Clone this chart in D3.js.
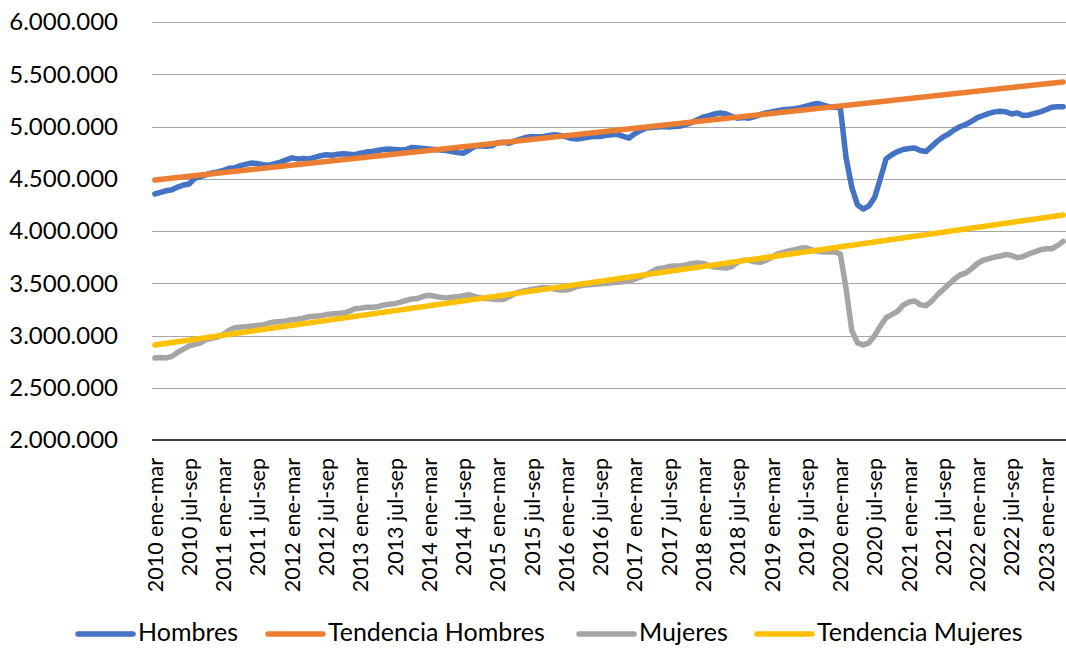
<!DOCTYPE html>
<html>
<head>
<meta charset="utf-8">
<script src="https://cdn.jsdelivr.net/npm/d3@7"></script>
<style>
  body { margin: 0; background: #fff; }
  svg { display: block; font-family: Lato, "Noto Sans", sans-serif; }
</style>
</head>
<body>
<div id="chart"></div>
<script>
// ocupados por sexo, trimestres móviles (miles de personas)
var meses = ["ene","feb","mar","abr","may","jun","jul","ago","sep","oct","nov","dic"];
var anios = [2010,2011,2012,2013,2014,2015,2016,2017,2018,2019,2020,2021,2022,2023];

var hombres = [
  4354,4370,4385,4395,4420,4440,4450,4505,4520,4540,4555,4565,
  4580,4600,4605,4625,4640,4650,4645,4635,4630,4645,4660,4680,
  4700,4690,4695,4690,4705,4720,4730,4725,4735,4740,4735,4730,
  4745,4755,4760,4770,4780,4785,4780,4775,4780,4800,4795,4790,
  4785,4780,4775,4770,4760,4750,4745,4775,4810,4815,4810,4815,
  4845,4850,4840,4860,4880,4895,4905,4900,4905,4915,4920,4915,
  4900,4885,4880,4890,4900,4905,4905,4915,4920,4925,4905,4890,
  4930,4960,4985,4990,4995,5000,4995,5000,5005,5020,5040,5065,
  5090,5105,5120,5130,5120,5095,5080,5085,5080,5095,5115,5130,
  5140,5150,5160,5165,5170,5180,5195,5210,5220,5205,5190,5185,
  5180,4700,4420,4250,4210,4240,4320,4500,4690,4730,4760,4780,
  4790,4795,4770,4760,4810,4860,4900,4930,4970,5000,5020,5050,
  5085,5105,5125,5140,5145,5140,5120,5130,5105,5110,5125,5140,
  5160,5185,5190,5190
];

var mujeres = [
  2785,2790,2785,2800,2840,2870,2900,2915,2930,2960,2975,2985,
  3010,3050,3075,3080,3085,3090,3095,3100,3120,3130,3135,3140,
  3150,3155,3165,3180,3185,3190,3200,3205,3210,3215,3230,3255,
  3260,3270,3270,3275,3290,3300,3305,3320,3335,3350,3355,3375,
  3385,3375,3365,3360,3365,3370,3380,3390,3375,3360,3355,3350,
  3345,3345,3370,3400,3420,3430,3440,3450,3460,3455,3445,3435,
  3435,3450,3470,3480,3485,3490,3495,3500,3505,3510,3515,3520,
  3540,3560,3580,3610,3640,3645,3660,3665,3665,3675,3690,3695,
  3690,3670,3655,3650,3645,3660,3700,3720,3720,3705,3700,3720,
  3750,3780,3795,3810,3820,3835,3840,3820,3805,3800,3800,3800,
  3780,3450,3050,2930,2910,2930,3000,3090,3170,3200,3230,3290,
  3320,3330,3295,3285,3330,3390,3440,3490,3540,3580,3600,3640,
  3690,3720,3735,3750,3760,3775,3765,3745,3755,3780,3800,3820,
  3830,3830,3860,3900
];

// tendencias lineales: valor en el primer y el último trimestre
var tendHombres = [4488, 5426];
var tendMujeres = [2909, 4153];

var yTicks = [2000000,2500000,3000000,3500000,4000000,4500000,5000000,5500000,6000000];

var tickLabels = [
  "2010 ene-mar","2010 jul-sep","2011 ene-mar","2011 jul-sep","2012 ene-mar","2012 jul-sep",
  "2013 ene-mar","2013 jul-sep","2014 ene-mar","2014 jul-sep","2015 ene-mar","2015 jul-sep",
  "2016 ene-mar","2016 jul-sep","2017 ene-mar","2017 jul-sep","2018 ene-mar","2018 jul-sep",
  "2019 ene-mar","2019 jul-sep","2020 ene-mar","2020 jul-sep","2021 ene-mar","2021 jul-sep",
  "2022 ene-mar","2022 jul-sep","2023 ene-mar"
];

var serieNames = ["Hombres","Tendencia Hombres","Mujeres","Tendencia Mujeres"];
var serieColors = ["#4472C4","#ED7D31","#A5A5A5","#FFC000"];

// categorias (trimestres moviles)
var categorias = [];
anios.forEach(function(a) {
  meses.forEach(function(m, j) {
    categorias.push(a + " " + m + "-" + meses[(j + 2) % 12]);
  });
});
categorias = categorias.slice(0, hombres.length);

var width = 1066, height = 648;
var margin = {top: 22, right: 0, bottom: 208, left: 152};

var svg = d3.select("#chart").append("svg")
    .attr("width", width)
    .attr("height", height);

var x = d3.scaleBand()
    .domain(categorias)
    .range([margin.left, width - margin.right]);

var y = d3.scaleLinear()
    .domain([2000000, 6000000])
    .range([height - margin.bottom, margin.top]);

function cx(c) { return x(c) + x.bandwidth() / 2; }

var loc = d3.formatLocale({decimal: ",", thousands: ".", grouping: [3], currency: ["$", ""]});
var fmt = loc.format(",d");

// grid
svg.append("g")
  .selectAll("line")
  .data(yTicks.slice(1))
  .enter().append("line")
    .attr("x1", margin.left)
    .attr("x2", width - margin.right)
    .attr("y1", function(d) { return Math.round(y(d)) + 0.5; })
    .attr("y2", function(d) { return Math.round(y(d)) + 0.5; })
    .attr("stroke", "#a6a6a6")
    .attr("stroke-width", 1.2);

// y labels
svg.append("g")
  .selectAll("text")
  .data(yTicks)
  .enter().append("text")
    .attr("x", 118)
    .attr("y", function(d) { return y(d); })
    .attr("dy", "0.35em")
    .attr("text-anchor", "end")
    .attr("font-size", 24)
    .attr("fill", "#000")
    .text(function(d) { return fmt(d); });

// x axis line
svg.append("line")
    .attr("x1", margin.left)
    .attr("x2", width - margin.right)
    .attr("y1", y(2000000))
    .attr("y2", y(2000000))
    .attr("stroke", "#000")
    .attr("stroke-width", 1.5);

// x labels (rotated)
svg.append("g")
  .selectAll("text")
  .data(tickLabels)
  .enter().append("text")
    .attr("transform", function(d) {
      return "translate(" + cx(d) + "," + (y(2000000) + 18) + ") rotate(-90)";
    })
    .attr("dy", "0.36em")
    .attr("text-anchor", "end")
    .attr("font-size", 21.5)
    .attr("fill", "#000")
    .text(function(d) { return d; });

var line = d3.line()
    .x(function(d) { return cx(d.c); })
    .y(function(d) { return y(d.v * 1000); });

function puntos(vals) {
  return vals.map(function(v, i) { return {c: categorias[i], v: v}; });
}
function tendencia(par) {
  return [{c: categorias[0], v: par[0]}, {c: categorias[categorias.length - 1], v: par[1]}];
}

var series = [puntos(hombres), tendencia(tendHombres), puntos(mujeres), tendencia(tendMujeres)];

svg.append("g")
  .selectAll("path")
  .data(series)
  .enter().append("path")
    .attr("d", line)
    .attr("fill", "none")
    .attr("stroke", function(d, i) { return serieColors[i]; })
    .attr("stroke-width", 5.5)
    .attr("stroke-linejoin", "round")
    .attr("stroke-linecap", "round");

// legend
var legX = [78, 268, 579, 757];
var legend = svg.append("g")
  .selectAll("g")
  .data(serieNames)
  .enter().append("g")
    .attr("transform", function(d, i) { return "translate(" + legX[i] + ",634)"; });

legend.append("line")
    .attr("x1", 0)
    .attr("x2", 55)
    .attr("stroke", function(d, i) { return serieColors[i]; })
    .attr("stroke-width", 5.5)
    .attr("stroke-linecap", "round");

legend.append("text")
    .attr("x", 60)
    .attr("y", 7)
    .attr("font-size", 25)
    .attr("fill", "#000")
    .text(function(d) { return d; });
</script>
</body>
</html>
